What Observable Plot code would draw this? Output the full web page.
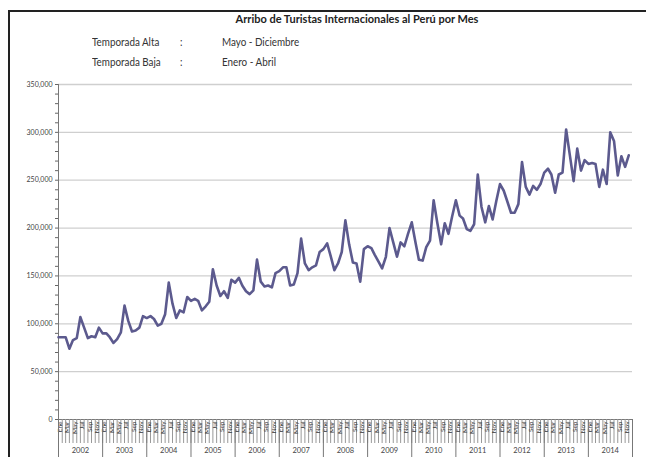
<!DOCTYPE html>
<html>
<head>
<meta charset="utf-8">
<script src="https://cdn.jsdelivr.net/npm/d3@7"></script>
<script src="https://cdn.jsdelivr.net/npm/@observablehq/plot@0.6"></script>
<style>
  html, body { margin: 0; padding: 0; background: #fff; }
  body { width: 646px; height: 457px; position: relative; overflow: hidden;
         font-family: "Lato", "Open Sans", sans-serif; color: #333; }
  #frame { position: absolute; left: 8px; top: 10px; width: 640px; height: 450px;
           border-left: 2px solid #222; border-top: 2px solid #222; overflow: hidden; }
  #title { position: absolute; left: 0; width: 694px; top: 0px; text-align: center;
           font-weight: bold; font-size: 11px; color: #222; }
  .row { position: absolute; font-size: 12px; color: #333; white-space: nowrap;
         transform: scaleX(0.82); transform-origin: left top; }
  #chart { position: absolute; left: 0; top: 70px; }
</style>
</head>
<body>
<div id="frame"><div id="title">Arribo de Turistas Internacionales al Perú por Mes</div></div>
<div class="row" style="left:92px; top:34px;">Temporada Alta</div>
<div class="row" style="left:180px; top:34px;">:</div>
<div class="row" style="left:222px; top:34px;">Mayo - Diciembre</div>
<div class="row" style="left:92px; top:54px;">Temporada Baja</div>
<div class="row" style="left:180px; top:54px;">:</div>
<div class="row" style="left:222px; top:54px;">Enero - Abril</div>
<div id="chart"></div>
<script>
const years = [2002, 2003, 2004, 2005, 2006, 2007, 2008, 2009, 2010, 2011, 2012, 2013, 2014];
const monthNames = ["Ene","Feb","Mar","Abr","May","Jun","Jul","Ago","Sep","Oct","Nov","Dic"];
const shownMonths = [0, 2, 4, 6, 8, 10];
const yTicks = [0, 50000, 100000, 150000, 200000, 250000, 300000, 350000];

const arrivals2002 = [86000, 86000, 86000, 74000, 83000, 85000, 107000, 96000, 85000, 87000, 86000, 96000];
const arrivals2003 = [90000, 90000, 86000, 80000, 84000, 91000, 119000, 103000, 92000, 93000, 96000, 108000];
const arrivals2004 = [106000, 108000, 105000, 98000, 100000, 110000, 143000, 121000, 106000, 114000, 112000, 128000];
const arrivals2005 = [124000, 126000, 124000, 114000, 118000, 123000, 157000, 140000, 129000, 134000, 127000, 146000];
const arrivals2006 = [143000, 148000, 140000, 134000, 131000, 135000, 167000, 144000, 139000, 140000, 138000, 153000];
const arrivals2007 = [155000, 159000, 159000, 140000, 141000, 153000, 189000, 163000, 156000, 159000, 161000, 175000];
const arrivals2008 = [178000, 184000, 171000, 156000, 163000, 175000, 208000, 183000, 164000, 163000, 144000, 178000];
const arrivals2009 = [181000, 179000, 172000, 165000, 158000, 170000, 200000, 185000, 170000, 185000, 181000, 194000];
const arrivals2010 = [206000, 185000, 167000, 166000, 180000, 187000, 229000, 205000, 183000, 205000, 194000, 212000];
const arrivals2011 = [229000, 213000, 210000, 199000, 197000, 204000, 256000, 222000, 206000, 223000, 209000, 228000];
const arrivals2012 = [246000, 239000, 228000, 216000, 216000, 225000, 269000, 243000, 235000, 244000, 240000, 246000];
const arrivals2013 = [258000, 262000, 256000, 237000, 256000, 258000, 303000, 276000, 249000, 283000, 260000, 271000];
const arrivals2014 = [267000, 268000, 267000, 243000, 261000, 246000, 300000, 291000, 255000, 275000, 264000, 276000];

const series = [arrivals2002, arrivals2003, arrivals2004, arrivals2005, arrivals2006, arrivals2007,
  arrivals2008, arrivals2009, arrivals2010, arrivals2011, arrivals2012, arrivals2013, arrivals2014];

const data = years.flatMap((y, yi) => series[yi].map((v, m) => ({date: new Date(Date.UTC(y, m, 1)), value: v})));

const start = new Date(Date.UTC(years[0], 0, 1));
const end = new Date(Date.UTC(years[years.length - 1] + 1, 0, 1));
const monthStarts = years.flatMap(y => d3.range(12).map(m => new Date(Date.UTC(y, m, 1)))).concat([end]);
const monthLabelDates = years.flatMap(y => shownMonths.map(m => new Date(Date.UTC(y, m, 15))));
const yearStarts = years.map(y => new Date(Date.UTC(y, 0, 1))).concat([end]);
const yearMids = years.map(y => new Date(Date.UTC(y, 6, 1)));
const minorY = d3.range(0, 350001, 10000);
const fmt = d3.format(",");

const chart = Plot.plot({
  width: 646,
  height: 387,
  marginLeft: 58,
  marginRight: 14,
  marginTop: 14,
  marginBottom: 38,
  style: {fontFamily: '"Lato", "Open Sans", sans-serif', background: "transparent", color: "#444"},
  x: {type: "utc", domain: [start, end], label: null},
  y: {domain: [0, 350000], label: null},
  marks: [
    Plot.gridY(yTicks.filter(d => d > 0), {stroke: "#cfcfcf", strokeOpacity: 1, strokeWidth: 1.3}),
    Plot.axisY(minorY, {tickSize: 3, tickPadding: 3, fontSize: 7, stroke: "#666", label: null,
      tickFormat: d => yTicks.includes(d) ? fmt(d) : ""}),
    Plot.ruleX([start], {stroke: "#777"}),
    Plot.ruleY([0], {stroke: "#777"}),
    Plot.line(data, {x: "date", y: "value", stroke: "#5c5a8e", strokeWidth: 2.6, curve: "linear"}),
    Plot.axisX(monthStarts, {tickSize: 24, stroke: "#999", label: null, tickFormat: () => ""}),
    Plot.axisX(monthLabelDates, {tickSize: 0, tickPadding: 2, tickRotate: -90, fontSize: 6.5, label: null,
      fill: "#333", tickFormat: d => monthNames[d.getUTCMonth()]}),
    Plot.axisX(yearStarts, {tickSize: 38, stroke: "#777", label: null, tickFormat: () => ""}),
    Plot.axisX(yearMids, {tickSize: 0, tickPadding: 28, fontSize: 7.5, label: null,
      tickFormat: d => String(d.getUTCFullYear())})
  ]
});
document.getElementById("chart").appendChild(chart);
</script>
</body>
</html>
